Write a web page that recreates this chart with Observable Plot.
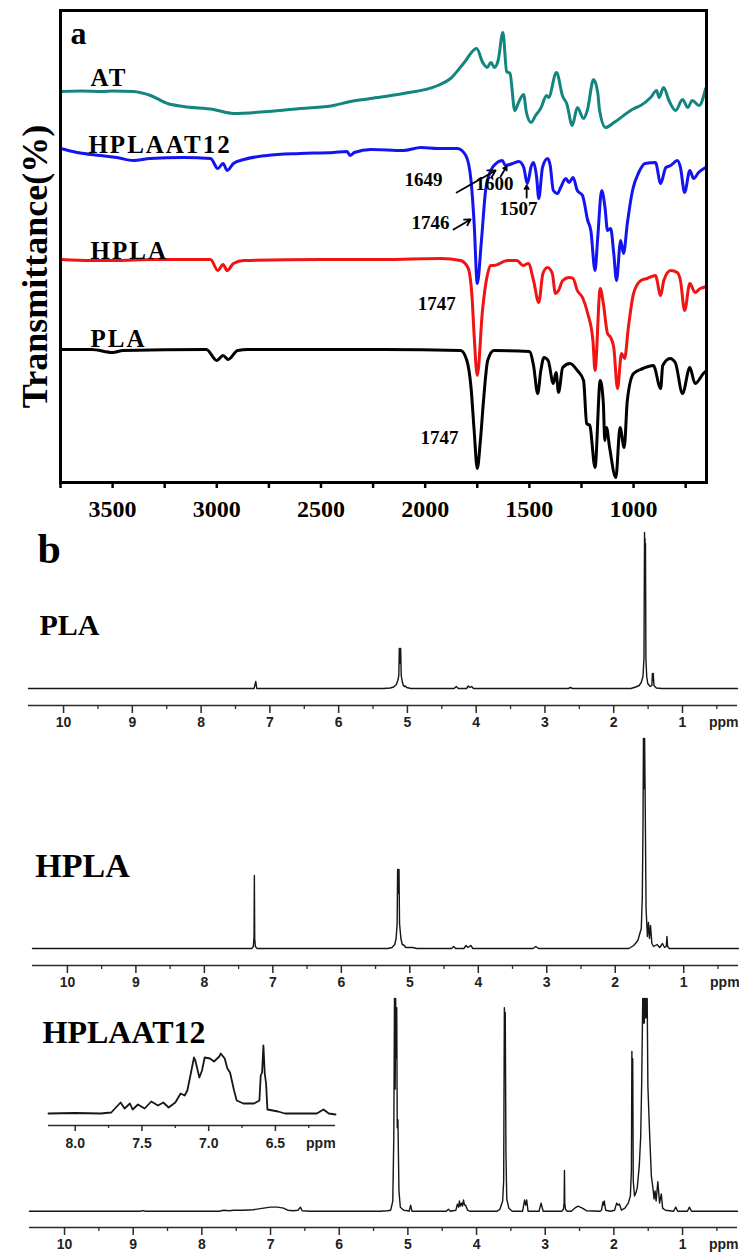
<!DOCTYPE html>
<html><head><meta charset="utf-8">
<script src="https://cdn.jsdelivr.net/npm/d3@7"></script>
<script src="https://cdn.jsdelivr.net/npm/@observablehq/plot@0.6"></script>
<style>
body{margin:0;background:#fff;}
#wrap{position:relative;width:739px;height:1253px;overflow:hidden;background:#fff;}
#wrap > div{position:absolute;left:0;}
</style></head><body><div id="wrap">
<div id="pa" style="top:0px"></div>
<div id="pb1" style="top:520px"></div>
<div id="pb2" style="top:720px"></div>
<div id="pb3" style="top:990px"></div>
<div id="pin" style="top:1040px"></div>
</div>
<script>
// ---------- Panel a: FTIR (wavenumber cm-1, relative transmittance, arbitrary offset units) ----------
const atIR = [[3750,391],[3650,391.5],[3550,391],[3500,391.5],[3400,391],[3318,387],[3236,379],[3160,376],[3016,373],[2920,369],[2756,371],[2598,374],[2440,377],[2358,381],[2262,384],[2104,389],[1940,397],[1878,404],[1816,419],[1753,434],[1724,420],[1703,415],[1684,420],[1668,415],[1650,422],[1627,450],[1609,411],[1593,409],[1570,372],[1552,380],[1528,388],[1514,370],[1492,360],[1470,367],[1446,374],[1417,387],[1408,385],[1370,410],[1340,386],[1321,379],[1294,357],[1270,375],[1240,364],[1222,372],[1192,403],[1172,390],[1163,372],[1134,355],[1094,360],[998,374],[966,377],[918,385],[889,392],[878,385],[856,395],[830,382],[798,372],[765,383],[740,375],[718,382],[686,377],[654,394]];
const hplaat12IR = [[3750,334],[3670,330],[3560,327],[3480,325],[3400,322],[3320,324],[3160,325],[3030,324],[2995,314],[2970,319],[2950,312],[2920,319],[2870,323],[2760,327],[2600,329],[2440,330],[2375,331],[2360,327],[2340,330],[2260,333],[2105,332],[2020,335],[1940,334],[1845,334],[1805,327],[1780,302],[1765,259],[1750,199],[1730,242],[1710,292],[1685,312],[1660,319],[1630,322],[1615,317],[1580,319],[1550,321],[1527,315],[1510,299],[1490,317],[1480,320],[1465,305],[1455,284],[1437,315],[1413,324],[1400,317],[1385,292],[1365,289],[1350,295],[1325,304],[1310,300],[1290,305],[1270,292],[1245,287],[1220,262],[1205,252],[1185,212],[1172,245],[1153,292],[1137,275],[1125,252],[1110,254],[1095,229],[1082,202],[1062,242],[1048,229],[1030,259],[1005,292],[975,310],[945,319],[895,320],[870,299],[845,315],[822,317],[790,322],[775,315],[755,290],[730,312],[712,304],[688,310],[655,315]];
const hplaIR = [[3750,223],[3600,222],[3500,222],[3300,223],[3030,223],[2995,212],[2970,218],[2950,212],[2920,219],[2870,222],[2500,223],[2200,223],[1925,224],[1830,222],[1795,215],[1775,185],[1765,147],[1750,107],[1725,172],[1700,209],[1685,217],[1670,217],[1605,222],[1560,222],[1530,217],[1505,219],[1480,202],[1455,180],[1435,209],[1413,215],[1390,209],[1375,189],[1360,192],[1340,202],[1310,205],[1290,204],[1270,192],[1245,185],[1220,169],[1195,142],[1185,112],[1160,194],[1145,179],[1125,149],[1110,145],[1095,135],[1077,94],[1058,129],[1043,124],[1025,155],[1000,189],[965,202],[935,204],[895,207],[870,187],[855,202],[822,212],[790,210],[775,202],[755,172],[730,199],[705,190],[680,194],[665,195],[650,196]];
const plaIR = [[3750,133],[3600,133],[3500,130],[3450,132],[3050,133],[3000,122],[2970,127],[2945,123],[2900,132],[2850,133],[2500,133],[2200,133],[1830,132],[1800,122],[1780,95],[1765,52],[1750,14],[1735,42],[1720,82],[1700,122],[1670,132],[1500,131],[1480,117],[1460,89],[1445,112],[1430,125],[1410,122],[1385,99],[1372,110],[1360,90],[1340,115],[1305,119],[1270,112],[1240,102],[1225,59],[1210,57],[1185,15],[1160,102],[1145,79],[1138,42],[1130,55],[1115,35],[1085,5],[1065,55],[1045,35],[1030,82],[1000,109],[955,114],[905,117],[870,94],[860,117],[825,124],[800,120],[765,89],[730,115],[705,99],[665,109],[650,112]];
const irColors = {AT: "#12857e", HPLAAT12: "#1414f0", HPLA: "#f01414", PLA: "#000000"};
const irTicks = [750,1000,1250,1500,1750,2000,2250,2500,2750,3000,3250,3500,3750];
const irSeriesLabels = [
  {w: 3606, t: 405, label: "AT"},
  {w: 3616, t: 338, label: "HPLAAT12"},
  {w: 3606, t: 232, label: "HPLA"},
  {w: 3606, t: 144, label: "PLA"}
];
const irNotes = [
  {w: 2008, t: 303, label: "1649"},
  {w: 1667, t: 299, label: "1600"},
  {w: 1552, t: 274, label: "1507"},
  {w: 1974, t: 260, label: "1746"},
  {w: 1945, t: 179, label: "1747"},
  {w: 1931, t: 45, label: "1747"}
];
const irArrows = [
  {w1: 1849, t1: 290, w2: 1662, t2: 312},
  {w1: 1638, t1: 306, w2: 1609, t2: 316},
  {w1: 1513, t1: 285, w2: 1513, t2: 297},
  {w1: 1864, t1: 253, w2: 1782, t2: 263}
];
const irTitle = {w: 3750, t: 216, label: "Transmittance(%)"};
const irPanel = {w: 3702, t: 449, label: "a"};

// ---------- Panel b: 1H NMR (ppm, relative intensity) ----------
const plaNMR = [[10.51,0],[7.23,0],[7.205,7],[7.19,0],[5.35,0],[5.25,0.5],[5.2,1.5],[5.16,4],[5.14,8],[5.125,13],[5.118,40],[5.112,25],[5.108,40],[5.103,28],[5.098,40],[5.09,13],[5.075,7],[5.06,3],[5.045,2],[5.03,2.5],[5.01,1],[4.95,0],[4.32,0],[4.29,2],[4.26,0],[4.14,0],[4.115,2.5],[4.09,1],[4.065,2],[4.04,0],[2.66,0],[2.63,1],[2.6,0],[1.75,0],[1.68,1.5],[1.63,3],[1.6,6],[1.575,12],[1.56,30],[1.552,156],[1.548,100],[1.545,150],[1.542,95],[1.538,145],[1.532,30],[1.52,12],[1.505,5],[1.47,2],[1.445,3],[1.438,15],[1.432,8],[1.425,15],[1.415,3],[1.38,0.5],[1.3,0],[0.2,0]];
const hplaNMR = [[10.51,0],[7.31,0],[7.285,2],[7.275,12],[7.27,73],[7.265,10],[7.255,2],[7.23,0],[5.32,0],[5.26,1],[5.22,4],[5.2,10],[5.185,25],[5.178,79],[5.172,55],[5.168,79],[5.163,55],[5.158,79],[5.15,25],[5.13,10],[5.11,4],[5.08,3],[5.06,1],[4.98,1],[4.96,1],[4.9,0],[4.39,0],[4.36,2],[4.33,0],[4.21,0],[4.18,3],[4.15,1],[4.11,3],[4.08,0],[3.2,0],[3.16,2],[3.12,0],[1.8,0],[1.73,3],[1.67,8],[1.62,20],[1.605,51],[1.595,120],[1.588,210],[1.583,160],[1.579,210],[1.575,160],[1.571,210],[1.563,150],[1.55,40],[1.53,12],[1.515,26],[1.5,10],[1.485,23],[1.465,5],[1.44,2],[1.39,4],[1.35,1],[1.31,5],[1.28,1],[1.255,2],[1.245,12],[1.235,2],[1.21,0],[0.2,0]];
const hplaat12NMR = [[10.51,0],[8.9,0],[8.86,0.6],[8.82,0],[7.75,0],[7.68,1],[7.6,0.5],[7.54,1],[7.4,1],[7.25,1.5],[7.15,2.5],[7.1,3],[7.0,4],[6.9,4],[6.81,3],[6.75,1],[6.67,0.5],[6.6,1],[6.565,4],[6.54,0.5],[6.42,0],[5.4,0],[5.3,0.5],[5.25,1],[5.22,10],[5.205,73],[5.195,209],[5.185,120],[5.178,209],[5.17,150],[5.162,200],[5.155,82],[5.145,90],[5.13,20],[5.11,4],[5.06,1],[5.0,0.5],[4.98,0],[4.96,6],[4.94,0],[4.44,0],[4.41,2],[4.38,0],[4.3,1],[4.28,7],[4.26,4],[4.25,10],[4.235,5],[4.22,8],[4.205,5],[4.19,11],[4.175,6],[4.16,6],[4.13,1],[4.1,0],[3.7,0],[3.66,2],[3.62,10],[3.605,30],[3.595,200],[3.588,180],[3.582,195],[3.572,57],[3.56,12],[3.53,3],[3.48,0],[3.33,0],[3.3,11],[3.285,6],[3.27,11],[3.25,0],[3.09,0],[3.06,8],[3.03,0],[2.76,0],[2.735,2],[2.725,8],[2.72,40],[2.715,8],[2.705,2],[2.68,0],[2.62,0],[2.57,3],[2.52,5],[2.46,3],[2.4,0.5],[2.2,0],[2.18,1],[2.16,9],[2.15,6],[2.14,10],[2.12,1],[2.05,0],[1.99,1],[1.96,8],[1.94,6],[1.92,7],[1.89,1],[1.84,3],[1.79,8],[1.76,15],[1.745,40],[1.738,157],[1.732,100],[1.726,150],[1.718,30],[1.70,15],[1.68,18],[1.66,23],[1.63,45],[1.61,73],[1.595,127],[1.58,209],[1.572,185],[1.565,209],[1.557,185],[1.55,209],[1.542,190],[1.535,209],[1.525,190],[1.515,209],[1.505,123],[1.48,77],[1.455,35],[1.43,22],[1.415,12],[1.40,20],[1.385,10],[1.36,29],[1.335,8],[1.31,17],[1.29,3],[1.25,1],[1.13,0],[1.10,4],[1.07,0],[0.93,0],[0.9,4],[0.87,0],[0.2,0]];
const insetNMR = [[8.2,0],[8.0,0.5],[7.81,0],[7.73,1],[7.66,11],[7.63,5],[7.59,10],[7.57,4],[7.53,9],[7.48,5],[7.43,12],[7.38,8],[7.34,11],[7.30,6],[7.25,11],[7.21,20],[7.18,18],[7.16,23],[7.14,36],[7.11,56],[7.10,53],[7.07,36],[7.05,43],[7.03,56],[6.99,55],[6.96,52],[6.92,57],[6.91,60],[6.88,55],[6.86,45],[6.84,41],[6.81,23],[6.79,13],[6.74,10],[6.66,10],[6.62,13],[6.61,38],[6.60,41],[6.59,68],[6.58,40],[6.57,30],[6.56,4],[6.48,2],[6.43,0],[6.19,0],[6.14,4],[6.10,0],[6.05,-1]];
const nmrMajor = [1,2,3,4,5,6,7,8,9,10];
const nmrMinor = [0.5,1.5,2.5,3.5,4.5,5.5,6.5,7.5,8.5,9.5];
const insetMajor = [8.0,7.5,7.0,6.5];
const insetMinor = [7.75,7.25,6.75,6.25];

const serif = "'Liberation Serif','Times New Roman',Times,serif";
const sans = "'Liberation Sans',Arial,Helvetica,sans-serif";
const noBg = {background: "none", overflow: "visible"};

// ---------- draw panel a ----------
const irSeries = [["AT", atIR], ["HPLAAT12", hplaat12IR], ["HPLA", hplaIR], ["PLA", plaIR]];
const pa = Plot.plot({
  width: 739, height: 530,
  marginLeft: 60, marginRight: 33, marginTop: 10, marginBottom: 48,
  x: {domain: [3750, 650], label: null},
  y: {domain: [0, 472], axis: null, label: null},
  style: {...noBg, fontFamily: serif},
  marks: [
    ...irSeries.map(([name, pts]) => Plot.line(pts, {x: d => d[0], y: d => d[1], stroke: irColors[name], strokeWidth: 3, curve: "monotone-x", strokeLinejoin: "round", strokeLinecap: "round"})),
    Plot.frame({stroke: "black", strokeWidth: 3}),
    Plot.axisX({ticks: irTicks, tickSize: 6, tickPadding: 11, strokeWidth: 2.5, tickFormat: d => d % 500 === 0 ? String(d) : "", fontSize: 24, fontWeight: "bold", fontFamily: serif, fill: "black", label: null}),
    Plot.text(irSeriesLabels, {x: "w", y: "t", text: "label", textAnchor: "start", fontSize: 25, fontWeight: "bold", fontFamily: serif, fill: "black"}),
    Plot.text(irNotes, {x: "w", y: "t", text: "label", fontSize: 19, fontWeight: "bold", fontFamily: serif, fill: "black"}),
    Plot.arrow(irArrows, {x1: "w1", y1: "t1", x2: "w2", y2: "t2", stroke: "black", strokeWidth: 1.8, headLength: 7}),
    Plot.text([irTitle], {x: "w", y: "t", text: "label", dx: -25, rotate: -90, fontSize: 36, fontWeight: "bold", fontFamily: serif, fill: "black"}),
    Plot.text([irPanel], {x: "w", y: "t", text: "label", textAnchor: "start", fontSize: 32, fontWeight: "bold", fontFamily: serif, fill: "black"})
  ]
});
document.getElementById("pa").appendChild(pa);
const seriesNames = new Set(irSeriesLabels.map(d => d.label));
d3.select(pa).selectAll("text").filter(function() { return seriesNames.has(this.textContent); }).attr("letter-spacing", "2");

// ---------- draw NMR panels ----------
function nmrPlot({data, height, left, right, top, bottom, ymin, ymax, labels}) {
  return Plot.plot({
    width: 739, height,
    marginLeft: left, marginRight: right, marginTop: top, marginBottom: bottom,
    x: {domain: [10.51, 0.2], label: null},
    y: {domain: [ymin, ymax], axis: null, label: null},
    style: {...noBg, fontFamily: sans},
    marks: [
      Plot.ruleY([ymin], {stroke: "#2a2a2a", strokeWidth: 1.6}),
      Plot.axisX({ticks: nmrMinor, tickSize: 4, tickFormat: () => "", stroke: "#2a2a2a", strokeWidth: 1.3, label: null}),
      Plot.axisX({ticks: nmrMajor, tickSize: 8, tickPadding: 4, stroke: "#2a2a2a", strokeWidth: 1.5, fontSize: 14, fontWeight: "bold", fontFamily: sans, fill: "#222", label: null}),
      Plot.text(["ppm"], {x: 0.4, y: ymin, dy: 17, text: d => d, fontSize: 14, fontWeight: "bold", fontFamily: sans, fill: "#222"}),
      Plot.line(data, {x: d => d[0], y: d => d[1], stroke: "#161616", strokeWidth: 1.4, strokeLinejoin: "round"}),
      Plot.text(labels, {x: "x", y: "y", text: "label", textAnchor: "start", fontSize: "size", fontWeight: "bold", fontFamily: serif, fill: "black"})
    ]
  });
}
const b1 = nmrPlot({data: plaNMR, height: 215, left: 28, right: 2, top: 8, bottom: 30, ymin: -17, ymax: 160,
  labels: [{x: 10.38, y: 139, label: "b", size: 42}, {x: 10.35, y: 63, label: "PLA", size: 30}]});
const b2 = nmrPlot({data: hplaNMR, height: 275, left: 32, right: 1, top: 14, bottom: 30, ymin: -17, ymax: 214,
  labels: [{x: 10.47, y: 82, label: "HPLA", size: 34}]});
const b3 = nmrPlot({data: hplaat12NMR, height: 263, left: 29, right: 2, top: 4, bottom: 26, ymin: -16, ymax: 213,
  labels: [{x: 10.32, y: 175, label: "HPLAAT12", size: 32}]});
document.getElementById("pb1").appendChild(b1);
document.getElementById("pb2").appendChild(b2);
document.getElementById("pb3").appendChild(b3);

const inset = Plot.plot({
  width: 360, height: 120,
  marginLeft: 48, marginRight: 25, marginTop: 3, marginBottom: 35,
  x: {domain: [8.2, 6.05], label: null},
  y: {domain: [-12, 70], axis: null, label: null},
  style: {...noBg, fontFamily: sans},
  marks: [
    Plot.ruleY([-12], {stroke: "#2a2a2a", strokeWidth: 1.6}),
    Plot.axisX({ticks: insetMinor, tickSize: 3, tickFormat: () => "", stroke: "#2a2a2a", strokeWidth: 1.3, label: null}),
    Plot.axisX({ticks: insetMajor, tickSize: 6, tickPadding: 7, tickFormat: d3.format(".1f"), stroke: "#2a2a2a", strokeWidth: 1.5, fontSize: 14, fontWeight: "bold", fontFamily: sans, fill: "#222", label: null}),
    Plot.text(["ppm"], {x: 6.16, y: -12, dy: 18, text: d => d, fontSize: 14, fontWeight: "bold", fontFamily: sans, fill: "#222"}),
    Plot.line(insetNMR, {x: d => d[0], y: d => d[1], stroke: "#161616", strokeWidth: 1.8, strokeLinejoin: "round"})
  ]
});
document.getElementById("pin").appendChild(inset);
</script></body></html>
